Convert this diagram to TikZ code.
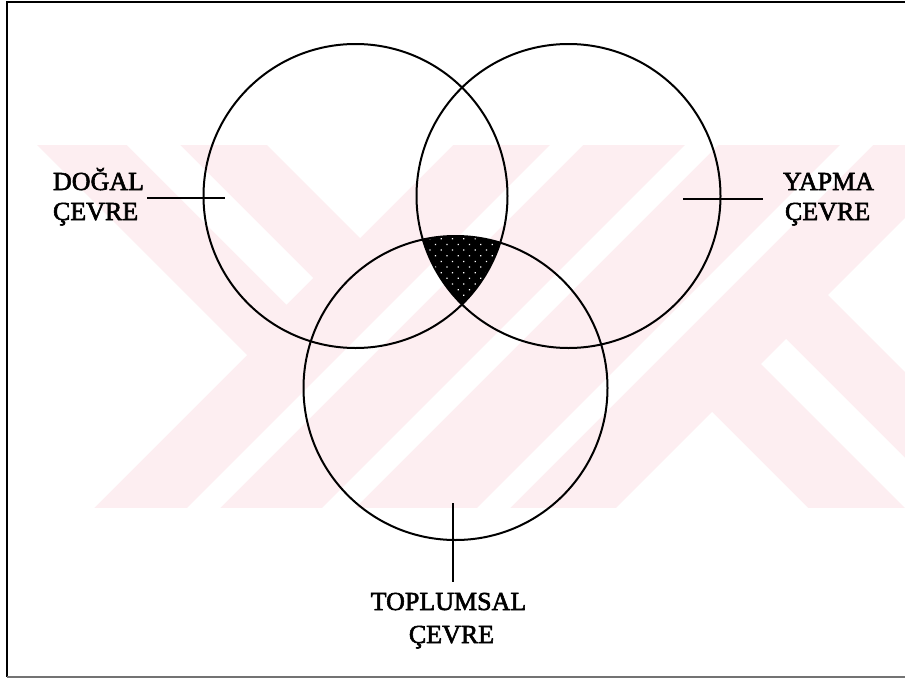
\documentclass[tikz,border=0pt]{standalone}
\usepackage{fontspec}
\setmainfont{Liberation Serif}
\newfontfamily\scanfont{Liberation Serif}[FakeBold=2.2]
\usetikzlibrary{patterns.meta}
\definecolor{wmpink}{RGB}{253,238,241}
\begin{document}
\begin{tikzpicture}[x=1pt,y=-1pt,
  lbl/.style={font=\scanfont\fontsize{26}{30}\selectfont, inner sep=0pt, outer sep=0pt, text=black},
  ring/.style={draw=black, line width=2pt},
  leader/.style={draw=black, line width=1.6pt},
  wmhole/.style={fill=white}]
\useasboundingbox (0,0) rectangle (905,680);
% faint watermark
\begin{scope}
  \clip (37,145) rectangle (905,508);
  \fill[wmpink] (37,145) rectangle (905,508);
  \fill[wmhole] (127,145) -- (180,145) -- (313,278) -- (286.5,304.5) -- cycle;
  \fill[wmhole] (267,145) -- (360,238) -- (453,145) -- cycle;
  \fill[wmhole] (37,145) -- (247,355) -- (94,508) -- (37,508) -- cycle;
  \fill[wmhole] (550,145) -- (583,145) -- (220,508) -- (187,508) -- cycle;
  \fill[wmhole] (685,145) -- (718,145) -- (355,508) -- (322,508) -- cycle;
  \fill[wmhole] (840,145) -- (873,145) -- (510,508) -- (477,508) -- cycle;
  \fill[wmhole] (786,339) -- (905,458) -- (905,508) -- (761,364) -- cycle;
  \fill[wmhole] (712,412) -- (808,508) -- (616,508) -- cycle;
  \fill[wmhole] (905,218) -- (828,295) -- (905,372) -- cycle;
\end{scope}
% frame
\draw[black, line width=1.5pt] (905,2) -- (7,2) -- (7,677);
\draw[black!55, line width=1.5pt] (7,677) -- (905,677);
% circle centres
\coordinate (cA) at (355.5,196);
\coordinate (cB) at (568.5,196);
\coordinate (cC) at (455.5,388);
% triple intersection
\begin{scope}
  \clip (cA) circle[radius=152];
  \clip (cB) circle[radius=152];
  \fill[black] (cC) circle[radius=152];
  \fill[pattern={Dots[angle=45,distance=8pt,radius=0.9pt]}, pattern color=white] (cC) circle[radius=152];
\end{scope}
% circles
\draw[ring] (cA) circle[radius=152];
\draw[ring] (cB) circle[radius=152];
\draw[ring] (cC) circle[radius=152];
% labels
\node[lbl, anchor=base west] (dogal1) at (53,190) {DOĞAL};
\node[lbl, anchor=base west] (dogal2) at (53,220) {ÇEVRE};
\node[lbl, anchor=base west] (yapma1) at (783,190) {YAPMA};
\node[lbl, anchor=base west] (yapma2) at (785,220) {ÇEVRE};
\node[lbl, anchor=base] (top1) at (448.5,610) {TOPLUMSAL};
\node[lbl, anchor=base] (top2) at (451.5,643) {ÇEVRE};
% leader lines
\coordinate (dA) at (147,198);
\coordinate (dB) at (225,198);
\coordinate (yA) at (683,199);
\coordinate (yB) at (763,199);
\coordinate (tA) at (453,503);
\coordinate (tB) at (453,582);
\draw[leader] (dA) -- (dB);
\draw[leader] (yA) -- (yB);
\draw[leader] (tA) -- (tB);
\end{tikzpicture}
\end{document}
